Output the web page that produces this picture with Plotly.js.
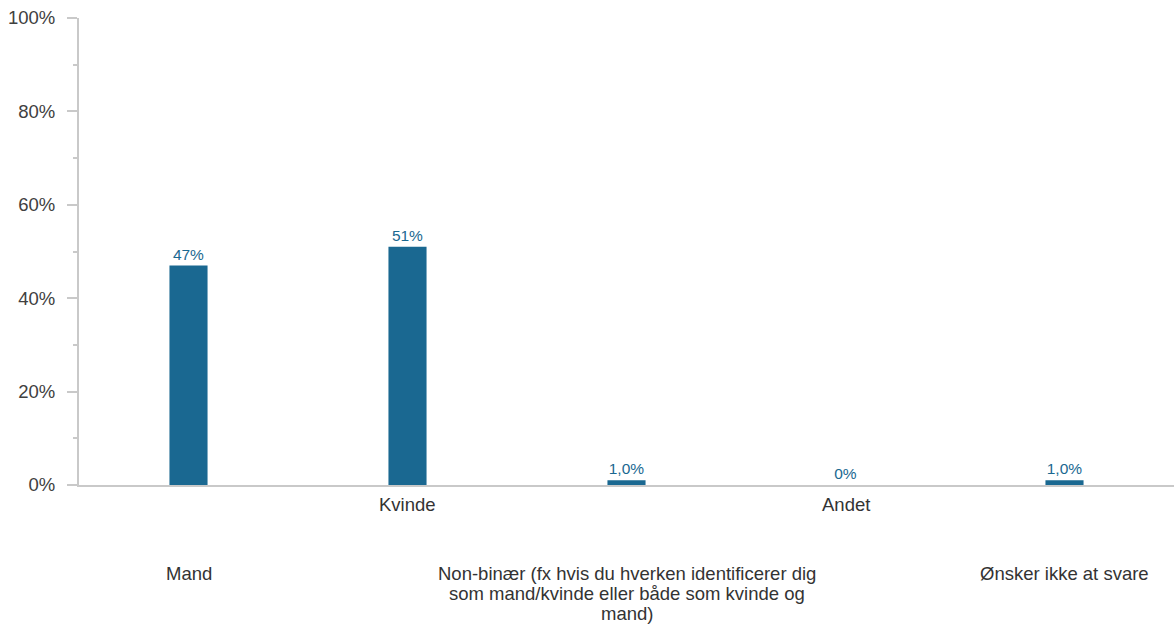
<!DOCTYPE html>
<html>
<head>
<meta charset="utf-8">
<script src="https://cdn.plot.ly/plotly-3.0.1.min.js"></script>
<style>
  html, body { margin: 0; padding: 0; background: #ffffff; }
  #chart { width: 1174px; height: 626px; }
</style>
</head>
<body>
<div id="chart"></div>
<script>
const categories = [
  "Mand",
  "Kvinde",
  "Non-binær (fx hvis du hverken identificerer dig<br>som mand/kvinde eller både som kvinde og<br>mand)",
  "Andet",
  "Ønsker ikke at svare"
];
const values = [47, 51, 1, 0, 1];
const valueLabels = ["47%", "51%", "1,0%", "0%", "1,0%"];
const labelRow = [1, 0, 1, 0, 1]; // 0 = upper row, 1 = lower row (staggered labels)
const yTickVals = [0, 20, 40, 60, 80, 100];
const yTickText = ["0%", "20%", "40%", "60%", "80%", "100%"];

const barColor = "#1a6891";
const axisColor = "#c9c9c9";
const textColor = "#404040";
const font = "Liberation Sans, Arial, sans-serif";

const trace = {
  type: "bar",
  x: categories,
  y: values,
  text: valueLabels,
  textposition: "outside",
  cliponaxis: false,
  textfont: { family: font, size: 15.5, color: barColor },
  marker: { color: barColor },
  width: 0.174,
  hoverinfo: "none"
};

// staggered category labels, one annotation per text line (20px line spacing)
const annotations = [];
categories.forEach((c, i) => {
  const lines = c.split("<br>");
  const firstCenter = labelRow[i] === 0 ? 19 : 88;
  lines.forEach((ln, k) => {
    annotations.push({
      x: c,
      xref: "x",
      y: 0,
      yref: "paper",
      yanchor: "middle",
      xanchor: "center",
      yshift: -(firstCenter + 20 * k),
      text: ln,
      showarrow: false,
      align: "center",
      font: { family: font, size: 18.5, color: "#333333" }
    });
  });
});

const layout = {
  width: 1174,
  height: 626,
  margin: { l: 79, r: 0, t: 18, b: 141 },
  paper_bgcolor: "#ffffff",
  plot_bgcolor: "#ffffff",
  showlegend: false,
  xaxis: {
    type: "category",
    showticklabels: false,
    showline: true,
    linecolor: axisColor,
    linewidth: 2,
    ticks: "",
    showgrid: false,
    zeroline: false,
    fixedrange: true
  },
  yaxis: {
    range: [0, 100],
    tickvals: yTickVals,
    ticktext: yTickText,
    ticks: "outside",
    ticklen: 10,
    tickwidth: 2,
    tickcolor: axisColor,
    ticklabelstandoff: 8,
    showline: true,
    linecolor: axisColor,
    linewidth: 2,
    showgrid: false,
    zeroline: false,
    tickfont: { family: font, size: 18.5, color: textColor },
    minor: { dtick: 10, tick0: 0, ticks: "outside", ticklen: 4, tickwidth: 2, tickcolor: axisColor, showgrid: false },
    fixedrange: true
  },
  annotations: annotations
};

Plotly.newPlot("chart", [trace], layout, { displayModeBar: false, staticPlot: true });
</script>
</body>
</html>
